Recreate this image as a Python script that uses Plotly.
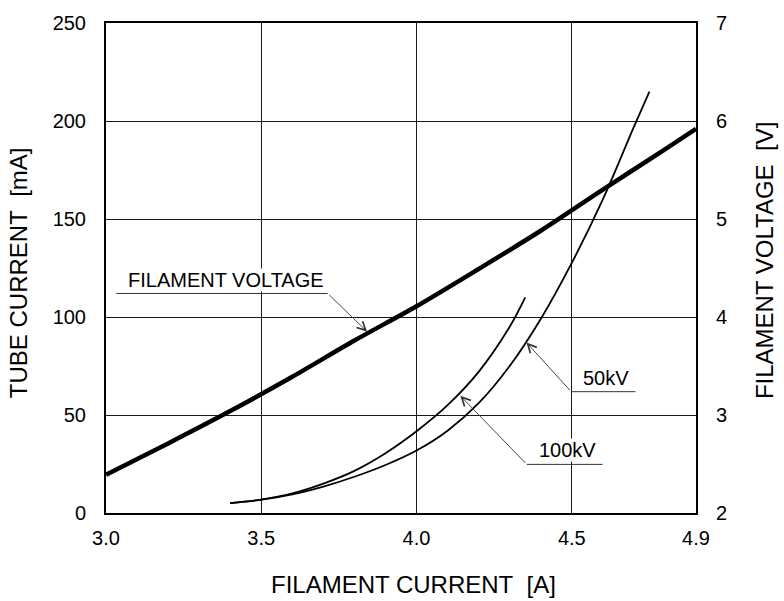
import plotly.graph_objects as go

# ---------------- data ----------------
fv_current = [3.0, 3.2, 3.4, 3.6, 3.8, 4.0, 4.2, 4.4, 4.6, 4.8, 4.9]
fv_voltage = [2.39, 2.71, 3.04, 3.39, 3.76, 4.11, 4.49, 4.88, 5.30, 5.71, 5.92]

kv100_current = [3.40, 3.50, 3.60, 3.70, 3.80, 3.90, 4.00, 4.10, 4.20, 4.30, 4.35]
kv100_tube = [5.0, 6.8, 10.0, 15.0, 21.5, 30.5, 41.7, 55.0, 72.0, 95.0, 110.0]

kv50_current = [3.40, 3.50, 3.60, 3.70, 3.80, 3.90, 4.00, 4.10, 4.20, 4.30, 4.40, 4.50, 4.60, 4.70, 4.75]
kv50_tube = [5.0, 6.8, 9.5, 13.5, 18.5, 24.5, 31.9, 42.0, 56.0, 75.0, 99.0, 127.6, 160.0, 197.0, 215.0]

x_ticks = [3.0, 3.5, 4.0, 4.5, 4.9]
x_ticklabels = ["3.0", "3.5", "4.0", "4.5", "4.9"]
y_ticks = [0, 50, 100, 150, 200, 250]
y2_ticks = [2, 3, 4, 5, 6, 7]

# ------------- figure -----------------
FONT = "Liberation Sans, Arial, sans-serif"
INK = "#000000"

fig = go.Figure()
fig.add_trace(go.Scatter(x=fv_current, y=fv_voltage, yaxis="y2", mode="lines",
                         line=dict(color=INK, width=4.5, shape="spline", smoothing=0.8),
                         showlegend=False, hoverinfo="skip"))
fig.add_trace(go.Scatter(x=kv100_current, y=kv100_tube, mode="lines",
                         line=dict(color=INK, width=1.8, shape="spline", smoothing=1.0),
                         showlegend=False, hoverinfo="skip"))
fig.add_trace(go.Scatter(x=kv50_current, y=kv50_tube, mode="lines",
                         line=dict(color=INK, width=1.8, shape="spline", smoothing=1.0),
                         showlegend=False, hoverinfo="skip"))

lbl_font = dict(family=FONT, size=20, color=INK)

# callout labels: (text, text_x, text_y, line_x0, line_x1, line_y, tail_x, tip_x, tip_y)
callouts = [
    ("FILAMENT VOLTAGE", 3.388, 118.8, 3.033, 3.714, 112.0, 3.714, 3.841, 92.5),
    ("50kV", 4.610, 68.9, 4.498, 4.705, 61.9, 4.498, 4.354, 87.0),
    ("100kV", 4.486, 31.9, 4.355, 4.599, 24.8, 4.355, 4.141, 59.8),
]
annotations = []
shapes = []
for text, tx, ty, lx0, lx1, ly, tailx, px, py in callouts:
    annotations.append(dict(x=tx, y=ty, xref="x", yref="y", text=text, showarrow=False,
                            font=lbl_font, bgcolor="white", borderpad=0,
                            xanchor="center", yanchor="middle"))
    shapes.append(dict(type="line", xref="x", yref="y", x0=lx0, x1=lx1, y0=ly, y1=ly,
                       line=dict(color="#333333", width=1), layer="above"))
    annotations.append(dict(x=px, y=py, xref="x", yref="y", ax=tailx,
                            ay=ly, axref="x", ayref="y", text="", showarrow=True,
                            arrowhead=5, arrowsize=1.9, arrowwidth=0.9, arrowcolor="#333333",
                            standoff=0, startstandoff=0))

title_font = dict(family=FONT, size=24, color=INK)
annotations += [
    dict(text="FILAMENT CURRENT\u00a0\u00a0[A]", xref="paper", yref="paper",
         x=0.522, y=-0.146, xanchor="center", yanchor="middle", showarrow=False, font=title_font),
    dict(text="TUBE CURRENT\u00a0\u00a0[mA]", xref="paper", yref="paper",
         x=-0.147, y=0.49, xanchor="center", yanchor="middle", textangle=-90,
         showarrow=False, font=title_font),
    dict(text="FILAMENT VOLTAGE\u00a0\u00a0[V]", xref="paper", yref="paper",
         x=1.116, y=0.515, xanchor="center", yanchor="middle", textangle=-90,
         showarrow=False, font=title_font),
]

tick_font = dict(family=FONT, size=20, color=INK)
fig.update_layout(
    width=784, height=601,
    margin=dict(l=106, r=88, t=21, b=88, pad=0),
    paper_bgcolor="white", plot_bgcolor="white",
    font=dict(family=FONT, color=INK),
    xaxis=dict(range=[3.0, 4.9], tickvals=x_ticks, ticktext=x_ticklabels,
               showgrid=True, gridcolor="#1a1a1a", gridwidth=1,
               showline=True, linecolor=INK, linewidth=2, mirror=True,
               ticks="", tickfont=tick_font, ticklabelstandoff=6, zeroline=False),
    yaxis=dict(range=[0, 250], tickvals=y_ticks,
               showgrid=True, gridcolor="#1a1a1a", gridwidth=1,
               showline=True, linecolor=INK, linewidth=2, mirror=True,
               ticks="", tickfont=tick_font, ticklabelstandoff=14, zeroline=False),
    yaxis2=dict(range=[2, 7], tickvals=y2_ticks, overlaying="y", side="right",
                showgrid=False, showline=True, linecolor=INK, linewidth=2,
                ticks="", tickfont=tick_font, ticklabelstandoff=14, zeroline=False),
    annotations=annotations,
    shapes=shapes,
)

fig.write_html("out.html")
